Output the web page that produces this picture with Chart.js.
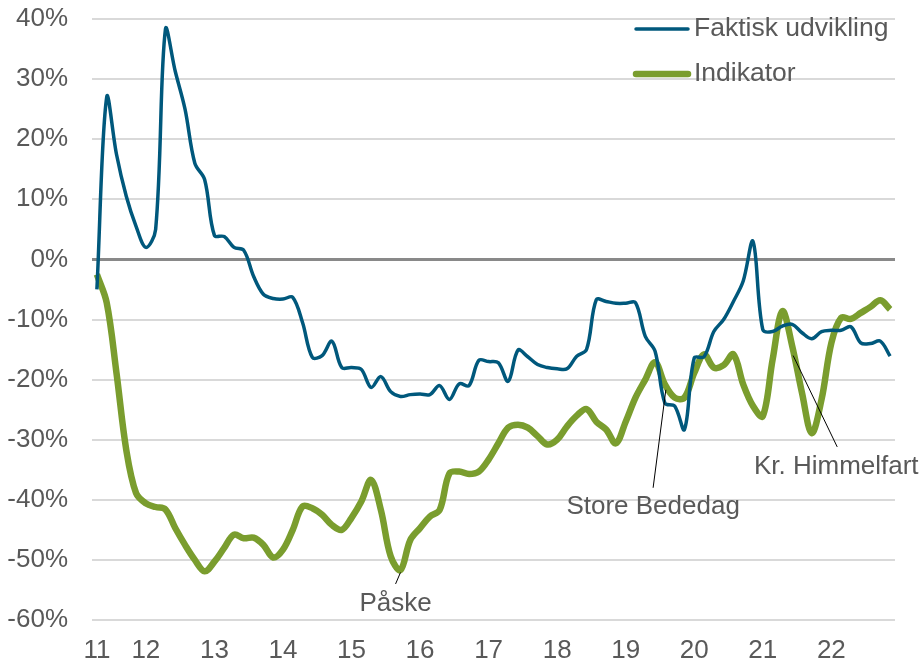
<!DOCTYPE html>
<html>
<head>
<meta charset="utf-8">
<script src="https://cdn.jsdelivr.net/npm/chart.js@4/dist/chart.umd.min.js"></script>
<style>
  body { margin: 0; background: #fff; }
</style>
</head>
<body>
<canvas id="chart" width="924" height="664"></canvas>
<script>
// daily points, 11 March - 31 May, axis labelled by week number
const weekLabels = ["11", "12", "13", "14", "15", "16", "17", "18", "19", "20", "21", "22"];
const weekStartIdx = [0, 5, 12, 19, 26, 33, 40, 47, 54, 61, 68, 75];
const dayCount = 82;

const faktisk = [
  -5, 27, 17.5, 10.5, 5.5, 2, 5, 38.3, 31.3, 25,
  16, 13.3, 4, 3.8, 2, 1.5, -2.8, -5.8, -6.5, -6.6,
  -6.3, -10.5, -16.3, -16, -13.6, -18, -18, -18.3, -21.3, -19.5,
  -22, -22.8, -22.5, -22.4, -22.5, -21, -23.3, -20.7, -21, -16.8,
  -17, -17.2, -20.3, -15.1, -16.2, -17.5, -18, -18.2, -18.2, -16.1,
  -15, -6.7, -7, -7.3, -7.3, -7.2, -12.8, -15.3, -23.9, -24.4,
  -28.3, -16.4, -16.2, -12, -10, -7, -3.6, 3, -11.7, -12,
  -11.1, -10.8, -12.2, -13.2, -12, -11.8, -11.8, -11.2, -13.9, -14,
  -13.6, -16.1
];

const indikator = [
  -2.5, -7.2, -18.9, -31.7, -38.9, -40.6, -41.2, -41.6, -44.7, -47.5,
  -50, -51.9, -50.3, -48, -45.8, -46.4, -46.3, -47.5, -49.6, -48.3,
  -45, -41.1, -41.4, -42.5, -44.2, -45, -43, -40.3, -36.7, -41.7,
  -49.4, -51.7, -46.7, -44.7, -42.8, -41.7, -35.6, -35.3, -35.7, -35.3,
  -33.3, -30.6, -28, -27.5, -28, -29.4, -30.8, -30, -27.8, -26,
  -24.9, -27, -28.3, -30.6, -27, -23, -20, -17.1, -20.8, -23,
  -23, -18.9, -15.8, -18, -17.6, -15.8, -20.8, -24.4, -26.1, -16.7,
  -8.6, -14.4, -22.2, -28.9, -23.3, -13.9, -9.7, -9.9, -8.9, -7.9,
  -6.8, -8.3
];

// holiday notes: tip of pointer, end of pointer, text centre (index, %)
const notes = [
  { text: "Påske", tip: [31.0, -52.1], end: [30.5, -54], label: [30.5, -57.3] },
  { text: "Store Bededag", tip: [58.1, -21.7], end: [56.8, -38], label: [56.8, -41.2] },
  { text: "Kr. Himmelfart", tip: [71.1, -16], end: [75.6, -31.2], label: [75.5, -34.5] }
];

const labels = [];
for (let i = 0; i < dayCount; i++) {
  const w = weekStartIdx.indexOf(i);
  labels.push(w >= 0 ? weekLabels[w] : "");
}

const FONT = "'Liberation Sans', Arial, sans-serif";
const TEXT = "#595959";

const notesPlugin = {
  id: "notes",
  afterDatasetsDraw(chart) {
    const ctx = chart.ctx;
    const x = chart.scales.x, y = chart.scales.y;
    ctx.save();
    ctx.strokeStyle = "#000";
    ctx.lineWidth = 1;
    ctx.fillStyle = TEXT;
    ctx.font = "26px " + FONT;
    ctx.textAlign = "center";
    ctx.textBaseline = "middle";
    notes.forEach(n => {
      ctx.beginPath();
      ctx.moveTo(x.getPixelForValue(n.tip[0]), y.getPixelForValue(n.tip[1]));
      ctx.lineTo(x.getPixelForValue(n.end[0]), y.getPixelForValue(n.end[1]));
      ctx.stroke();
      ctx.fillText(n.text, x.getPixelForValue(n.label[0]), y.getPixelForValue(n.label[1]));
    });
    ctx.restore();
  }
};

const legendPlugin = {
  id: "sideLegend",
  afterDraw(chart) {
    const ctx = chart.ctx;
    ctx.save();
    ctx.font = "26.5px " + FONT;
    ctx.textBaseline = "middle";
    ctx.lineCap = "round";
    chart.data.datasets.forEach((ds, i) => {
      const yy = 29 + i * 45;
      ctx.strokeStyle = ds.borderColor;
      ctx.lineWidth = ds.borderWidth;
      ctx.beginPath();
      ctx.moveTo(636, yy);
      ctx.lineTo(688, yy);
      ctx.stroke();
      ctx.fillStyle = TEXT;
      ctx.fillText(ds.label, 694, yy);
    });
    ctx.restore();
  }
};

new Chart(document.getElementById("chart"), {
  type: "line",
  data: {
    labels: labels,
    datasets: [
      {
        label: "Faktisk udvikling",
        data: faktisk,
        borderColor: "#00587c",
        borderWidth: 3.5,
        pointRadius: 0,
        tension: 0.35
      },
      {
        label: "Indikator",
        data: indikator,
        borderColor: "#7a9d2e",
        borderWidth: 6.5,
        pointRadius: 0,
        tension: 0.35
      }
    ]
  },
  options: {
    responsive: false,
    animation: false,
    layout: { padding: { top: 19, right: 29, left: 0, bottom: 0 } },
    plugins: {
      legend: { display: false },
      tooltip: { enabled: false }
    },
    scales: {
      x: {
        offset: true,
        grid: { display: false },
        border: { display: false },
        ticks: {
          autoSkip: false,
          maxRotation: 0,
          color: TEXT,
          font: { family: FONT, size: 26 },
          padding: 7
        },
        afterFit(scale) {
          scale.height = 44;
          scale.paddingLeft = 0;
          scale.paddingRight = 0;
        }
      },
      y: {
        min: -60,
        max: 40,
        border: { display: false },
        grid: {
          drawTicks: false,
          color: c => (c.tick && c.tick.value === 0 ? "#898989" : "#d9d9d9"),
          lineWidth: c => (c.tick && c.tick.value === 0 ? 3 : 2)
        },
        ticks: {
          stepSize: 10,
          color: TEXT,
          padding: 24,
          font: { family: FONT, size: 26 },
          callback: v => v + "%"
        },
        afterFit(scale) {
          scale.width = 92;
          scale.paddingTop = 0;
          scale.paddingBottom = 0;
        }
      }
    }
  },
  plugins: [notesPlugin, legendPlugin]
});
</script>
</body>
</html>
